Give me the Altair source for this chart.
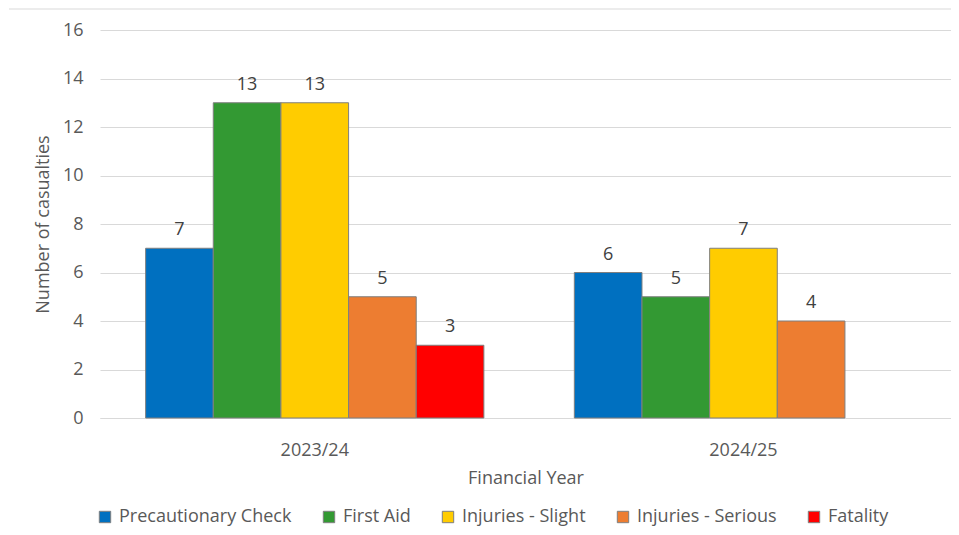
import altair as alt
import pandas as pd

years = ["2023/24", "2024/25"]
categories = ["Precautionary Check", "First Aid", "Injuries - Slight", "Injuries - Serious", "Fatality"]
values_2023 = [7, 13, 13, 5, 3]
values_2024 = [6, 5, 7, 4, None]
colors = ["#0070C0", "#339933", "#FFCC00", "#ED7D31", "#FF0000"]

rows = []
for yr, vals in zip(years, [values_2023, values_2024]):
    for c, v in zip(categories, vals):
        if v is not None:
            rows.append({"year": yr, "category": c, "value": v})
df = pd.DataFrame(rows)

FONT = "Open Sans"
GREY = "#595959"

base = alt.Chart(df).encode(
    x=alt.X(
        "year:N",
        scale=alt.Scale(domain=years, paddingInner=0.211, paddingOuter=0.098, align=0.543),
        axis=alt.Axis(
            title="Financial Year", labelAngle=0, tickSize=0, labelPadding=23,
            titlePadding=10, domainColor="#d9d9d9", grid=False,
        ),
    ),
    xOffset=alt.XOffset("category:N", scale=alt.Scale(domain=categories, paddingInner=0, paddingOuter=0)),
    y=alt.Y(
        "value:Q",
        scale=alt.Scale(domain=[0, 16]),
        axis=alt.Axis(
            title="Number of casualties", values=list(range(0, 17, 2)), tickSize=0,
            labelPadding=17, titlePadding=10, domain=False, gridColor="#d9d9d9",
        ),
    ),
)

bars = base.mark_bar(stroke="#7f7f7f", strokeWidth=1).encode(
    color=alt.Color(
        "category:N",
        scale=alt.Scale(domain=categories, range=colors),
        legend=alt.Legend(
            title=None, orient="none", direction="horizontal", legendX=-4, legendY=478,
            symbolType="square", symbolSize=130, symbolStrokeColor="#7f7f7f", symbolStrokeWidth=1,
            labelFontSize=18, labelColor=GREY, labelFont=FONT, columnPadding=28, labelOffset=5,
            labelLimit=400,
        ),
    )
)

text = base.mark_text(dy=-18, fontSize=18, color="#404040", font=FONT).encode(text="value:Q")

top_line = alt.Chart(pd.DataFrame({"a": [0]})).mark_rule(color="#d9d9d9", strokeWidth=1).encode(
    x=alt.value(-91), x2=alt.value(859), y=alt.value(-21)
)

chart = alt.layer(top_line, bars, text).properties(
    width=851, height=388,
    autosize=alt.AutoSizeParams(type="none"),
    padding={"left": 92, "top": 22, "right": 0, "bottom": 109},
).configure_view(stroke=None).configure_axis(
    labelFont=FONT, titleFont=FONT, labelFontSize=18, titleFontSize=18,
    labelColor=GREY, titleColor=GREY, titleFontWeight="normal",
)

chart.save("out.html", embed_options={"renderer": "svg", "actions": False})
